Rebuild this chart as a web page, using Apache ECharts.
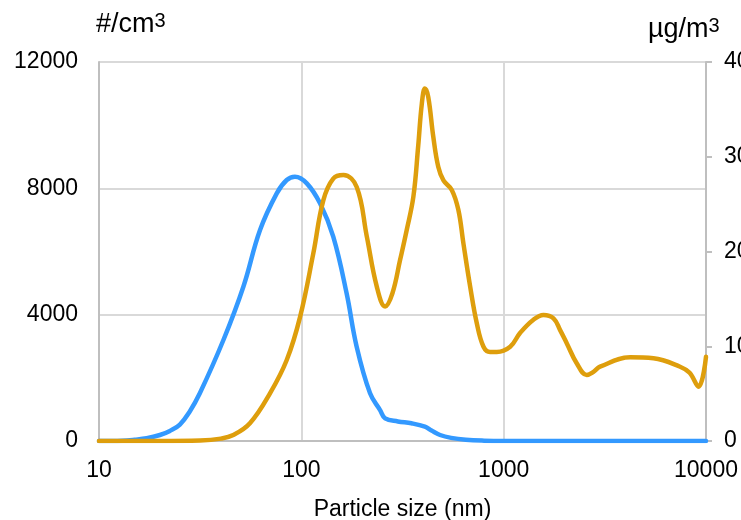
<!DOCTYPE html>
<html>
<head>
<meta charset="utf-8">
<script src="https://cdn.jsdelivr.net/npm/echarts@6/dist/echarts.min.js"></script>
<style>
  html, body { margin: 0; padding: 0; background: #fff; }
  #chart { width: 741px; height: 520px; }
</style>
</head>
<body>
<div id="chart"></div>
<script>
// Number concentration (#/cm³), left axis
const numberSizes  = [10, 13, 15, 17.2, 20, 22.4, 25.1, 28, 31.5, 41.2, 51.7, 62.5, 75.6, 84.7, 93, 106.4, 123.7, 143.8, 167.4, 187.7, 218.6, 245, 259.5, 300, 350, 408, 440, 485, 550, 650, 800, 1000, 3000, 10000];
const numberValues = [0, 10, 40, 85, 190, 320, 520, 920, 1510, 3198, 4886, 6680, 7842, 8263, 8368, 8158, 7526, 6468, 4676, 2986, 1510, 980, 718, 620, 560, 453, 330, 190, 100, 40, 10, 0, 0, 0];

// Mass concentration (µg/m³), right axis
const massSizes  = [10, 20, 31.6, 40, 46.1, 55.7, 70, 84.7, 98.6, 114.6, 128.4, 143.8, 161.5, 187.8, 210.6, 236, 259.5, 282, 307.6, 332, 358, 378, 394, 408, 424, 449, 475, 504, 554, 597, 632, 683, 737, 795, 857, 925, 1077, 1205, 1403, 1573, 1763, 1901, 2052, 2296, 2574, 2780, 2995, 4218, 5498, 7447, 8300, 9180, 10000];
const massValues = [0, 0, 0.05, 0.25, 0.63, 1.87, 5.03, 8.55, 13.1, 19.8, 25.4, 27.7, 28.07, 26.8, 21.6, 16.3, 14.2, 15.6, 19.1, 22.3, 25.8, 31.1, 35.6, 37.2, 36.3, 32.1, 28.95, 27.5, 26.5, 24.4, 20.9, 16.3, 12.4, 9.95, 9.4, 9.4, 9.95, 11.4, 12.8, 13.3, 12.95, 11.7, 10.3, 8.2, 6.97, 7.3, 7.84, 8.83, 8.73, 7.84, 7.2, 5.73, 8.9];

const xTicks = [10, 100, 1000, 10000];
const leftTicks = [0, 4000, 8000, 12000];
const rightTicks = [0, 10, 20, 30, 40];

const FONT = 'Liberation Sans, Arial, sans-serif';
const chart = echarts.init(document.getElementById('chart'), null, { renderer: 'canvas' });

const option = {
  backgroundColor: '#ffffff',
  animation: false,
  textStyle: { fontFamily: FONT },
  grid: { left: 99, right: 35, top: 62, bottom: 79, containLabel: false, outerBoundsMode: 'none' },
  graphic: [
    {
      type: 'text', left: 96, top: 11,
      style: {
        text: '{a|#/cm}{s|3}',
        rich: {
          a: { fontSize: 27, fontFamily: FONT, fill: '#000' },
          s: { fontSize: 20, fontFamily: FONT, fill: '#000', verticalAlign: 'top' }
        }
      }
    },
    {
      type: 'text', left: 648, top: 16,
      style: {
        text: '{a|µg/m}{s|3}',
        rich: {
          a: { fontSize: 27, fontFamily: FONT, fill: '#000' },
          s: { fontSize: 20, fontFamily: FONT, fill: '#000', verticalAlign: 'top' }
        }
      }
    }
  ],
  xAxis: {
    type: 'log', logBase: 10, min: xTicks[0], max: xTicks[xTicks.length - 1],
    name: 'Particle size (nm)', nameLocation: 'middle', nameGap: 57,
    nameTextStyle: { fontSize: 23, color: '#000', fontFamily: FONT },
    axisLine: { show: true, onZero: false, lineStyle: { color: '#bfbfbf', width: 2 } },
    axisTick: { show: false },
    minorTick: { show: false },
    splitLine: { show: true, lineStyle: { color: '#d9d9d9', width: 2 } },
    axisLabel: { fontSize: 23, color: '#000', margin: 18, fontFamily: FONT,
      formatter: v => String(Math.round(v)) }
  },
  yAxis: [
    {
      type: 'value', min: leftTicks[0], max: leftTicks[leftTicks.length - 1], interval: 4000,
      position: 'left',
      axisLine: { show: true, lineStyle: { color: '#bfbfbf', width: 2 } },
      axisTick: { show: false },
      splitLine: { show: true, lineStyle: { color: '#d9d9d9', width: 2 } },
      axisLabel: { fontSize: 23, color: '#000', margin: 21, fontFamily: FONT,
        formatter: v => String(v) }
    },
    {
      type: 'value', min: rightTicks[0], max: rightTicks[rightTicks.length - 1], interval: 10,
      position: 'right',
      axisLine: { show: true, lineStyle: { color: '#bfbfbf', width: 2 } },
      axisTick: { show: true, length: 6, lineStyle: { color: '#bfbfbf', width: 2 } },
      splitLine: { show: false },
      axisLabel: { fontSize: 23, color: '#000', margin: 18, fontFamily: FONT,
        formatter: v => String(v) }
    }
  ],
  series: [
    {
      type: 'line', yAxisIndex: 0,
      data: numberSizes.map((s, i) => [s, numberValues[i]]),
      smooth: 0.4, showSymbol: false, symbol: 'none',
      lineStyle: { color: '#3399ff', width: 4.5, cap: 'round', join: 'round' },
      z: 3
    },
    {
      type: 'line', yAxisIndex: 1,
      data: massSizes.map((s, i) => [s, massValues[i]]),
      smooth: 0.4, showSymbol: false, symbol: 'none',
      lineStyle: { color: '#de9e0c', width: 4.5, cap: 'round', join: 'round' },
      z: 4
    }
  ]
};
chart.setOption(option);
</script>
</body>
</html>
